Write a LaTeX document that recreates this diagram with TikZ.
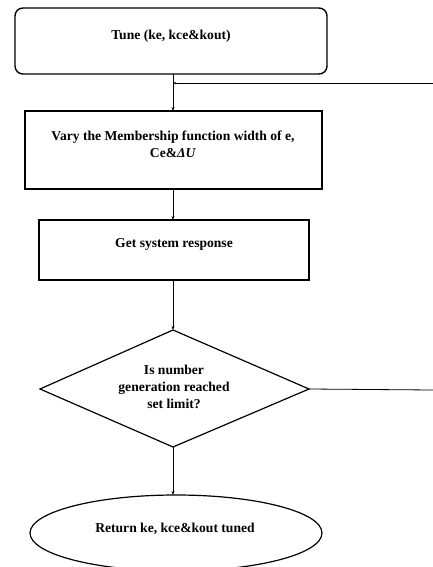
\documentclass[tikz,border=0pt]{standalone}
\usepackage{fontspec}
\setmainfont{Liberation Serif}
\usetikzlibrary{shapes.geometric,arrows.meta}
\begin{document}
\begin{tikzpicture}[x=1pt,y=-1pt,
  conn/.style={line width=0.8pt},
  arr/.style={conn,-{Stealth[length=4pt,width=3pt]}},
  lbl/.style={font=\bfseries\fontsize{13.6}{17.2}\selectfont,align=center}]
\useasboundingbox (0,0) rectangle (433,567);
\clip (0,0) rectangle (433,567);
% shapes
\draw[line width=1.4pt,rounded corners=8pt] (15,8) rectangle (327,74);
\node[lbl] (t1) at (171,36) {Tune (ke, kce\&kout)};
\coordinate (b1n) at (173,74);
\draw[line width=1.4pt] (25,111) rectangle (322,189);
\node[lbl] (t2) at (173,144) {Vary the Membership function width of e,\\Ce\&\textit{Δ}\textit{U}};
\coordinate (b2n) at (173,111);
\coordinate (b2s) at (173,189);
\draw[line width=1.4pt] (39,220) rectangle (309,280);
\node[lbl] (t3) at (174,244) {Get system response};
\coordinate (b3n) at (173,220);
\coordinate (b3s) at (173,280);
\draw[line width=1.2pt] (173,330) -- (309,389) -- (173,447) -- (40,389) -- cycle;
\node[lbl] (t4) at (174,387) {Is number\\generation reached\\set limit?};
\coordinate (dn) at (173,330);
\coordinate (de) at (309,389);
\coordinate (ds) at (173,447);
\draw[line width=1.2pt] (176,533) ellipse (146 and 38);
\node[lbl] (t5) at (175,529) {Return ke, kce\&kout tuned};
\coordinate (en) at (173,495);
% connectors
\coordinate (fb) at (173,83);
\coordinate (fbR) at (433,83);
\coordinate (deR) at (433,390);
\draw[arr] (b1n) -- (b2n);
\draw[conn,-{Stealth[length=3pt,width=2.5pt]}] (fbR) -- (fb);
\draw[arr] (b2s) -- (b3n);
\draw[arr] (b3s) -- (dn);
\draw[conn] (de) -- (deR);
\draw[arr] (ds) -- (en);
\end{tikzpicture}
\end{document}
